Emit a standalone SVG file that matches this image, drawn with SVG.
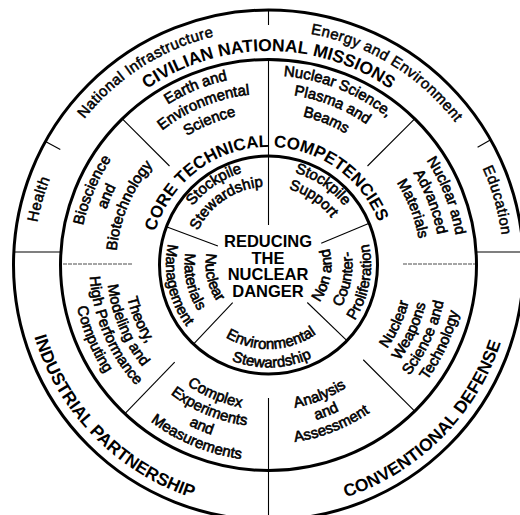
<svg xmlns="http://www.w3.org/2000/svg" width="520" height="515" viewBox="0 0 520 515">
<style>
.ring{fill:none;stroke:#000;stroke-width:3}
.sp{stroke:#000;stroke-width:1.1;fill:none}
.gr{stroke:#888;stroke-width:1.3;stroke-dasharray:4 1;fill:none}
text{font-family:"Liberation Sans",Arial,Helvetica,sans-serif;fill:#000}
.lb{font-size:15px;stroke:#000;stroke-width:0.6;text-anchor:middle}
.ob{font-size:15px;stroke:#000;stroke-width:0.5;letter-spacing:0.4px;text-anchor:middle}
.bg{font-size:17.5px;font-weight:bold;text-anchor:middle}
.ct{font-size:16.5px;font-weight:bold;text-anchor:middle}
</style>
<defs>
<path id="t235" d="M-231.43,-40.8 A235,235 0 0 1 231.43,-40.8"/>
<path id="t214" d="M-210.75,-37.15 A214,214 0 0 1 210.75,-37.15"/>
<path id="t118" d="M-116.21,-20.48 A118,118 0 0 1 116.21,-20.48"/>
<path id="t189" d="M-186.62,-32.9 A189.5,189.5 0 0 1 186.62,-32.9"/>
<path id="t171" d="M-168.89,-29.77 A171.5,171.5 0 0 1 168.89,-29.77"/>
<path id="t152" d="M-150.18,-26.47 A152.5,152.5 0 0 1 150.18,-26.47"/>
<path id="t96" d="M-94.54,-16.67 A96,96 0 0 1 94.54,-16.67"/>
<path id="t78" d="M-77.31,-13.63 A78.5,78.5 0 0 1 77.31,-13.63"/>
<path id="b245" d="M-241.28,42.53 A245,245 0 0 0 241.28,42.53"/>
<path id="b145" d="M-142.8,25.17 A145,145 0 0 0 142.8,25.17"/>
<path id="b162" d="M-159.54,28.12 A162,162 0 0 0 159.54,28.12"/>
<path id="b179" d="M-176.28,31.07 A179,179 0 0 0 176.28,31.07"/>
<path id="b196" d="M-193.02,34.03 A196,196 0 0 0 193.02,34.03"/>
<path id="b63" d="M-62.04,10.94 A63,63 0 0 0 62.04,10.94"/>
<path id="b84" d="M-82.72,14.58 A84,84 0 0 0 82.72,14.58"/>
<path id="b102" d="M-100.94,17.79 A102.5,102.5 0 0 0 100.94,17.79"/>
</defs>
<rect width="520" height="515" fill="#fff"/>
<g transform="translate(268.5,265)">
<g id="rings">
<circle class="ring" cx="0" cy="0" r="255"/>
<ellipse class="ring" cx="0" cy="0" rx="208" ry="205.5"/>
<circle class="ring" cx="0" cy="0" r="109"/>
</g>
<g id="connectors">
<line class="sp" x1="0" y1="-205" x2="0" y2="-40"/>
<line class="sp" x1="0" y1="-255" x2="0" y2="-240"/>
<line class="sp" x1="0" y1="133" x2="0" y2="256"/>
<line class="sp" x1="-208.2" y1="-115.4" x2="-223" y2="-123.6"/>
<line class="sp" x1="209.1" y1="-117.8" x2="222.2" y2="-125.2"/>
<line class="sp" x1="-254.7" y1="-13" x2="-207.6" y2="-13"/>
<line class="sp" x1="207.6" y1="-13" x2="254.7" y2="-13"/>
<line class="gr" x1="-205.5" y1="-1" x2="-135.5" y2="-1"/>
<line class="gr" x1="134.5" y1="-1" x2="206.5" y2="-1"/>
<line class="sp" x1="99" y1="-99" x2="146.4" y2="-146.4"/>
<line class="sp" x1="94.75" y1="94.75" x2="146.4" y2="146.4"/>
<line class="sp" x1="-93.8" y1="97.1" x2="-143.8" y2="148.9"/>
<line class="sp" x1="-99" y1="-99" x2="-146.4" y2="-146.4"/>
<line class="sp" x1="52.7" y1="-21.8" x2="100.7" y2="-41.7"/>
<line class="sp" x1="38.8" y1="37.5" x2="78.4" y2="75.7"/>
<line class="sp" x1="-35.8" y1="37.7" x2="-75" y2="79.1"/>
<line class="sp" x1="-50.6" y1="-18.9" x2="-102.1" y2="-38.2"/>
</g>
<g id="n-health"><text class="ob" transform="rotate(-74)"><textPath href="#t235" startOffset="50%">Health</textPath></text></g>
<g id="n-natinfra"><text class="ob" transform="rotate(-32.5)"><textPath href="#t235" startOffset="50%">National Infrastructure</textPath></text></g>
<g id="n-energy"><text class="ob" transform="rotate(31.5)"><textPath href="#t235" startOffset="50%">Energy and Environment</textPath></text></g>
<g id="n-education"><text class="ob" transform="rotate(74.2)"><textPath href="#t235" startOffset="50%">Education</textPath></text></g>
<g id="n-civilian"><text class="bg"><textPath href="#t214" startOffset="50%">CIVILIAN NATIONAL MISSIONS</textPath></text></g>
<g id="n-core"><text class="bg" style="font-size:17px" transform="rotate(-2.5)"><textPath href="#t118" startOffset="50%">CORE TECHNICAL COMPETENCIES</textPath></text></g>
<g id="n-industrial"><text class="bg" transform="rotate(45.5)"><textPath href="#b245" startOffset="50%">INDUSTRIAL PARTNERSHIP</textPath></text></g>
<g id="n-conventional"><text class="bg" transform="rotate(-45)"><textPath href="#b245" startOffset="50%">CONVENTIONAL DEFENSE</textPath></text></g>
<g id="n-earth" transform="rotate(-22.3)">
<text class="lb"><textPath href="#t189" startOffset="50%">Earth and</textPath></text>
<text class="lb"><textPath href="#t171" startOffset="50%">Environmental</textPath></text>
<text class="lb"><textPath href="#t152" startOffset="50%">Science</textPath></text>
</g>
<g id="n-nucsci" transform="rotate(21.7)">
<text class="lb"><textPath href="#t189" startOffset="50%">Nuclear Science,</textPath></text>
<text class="lb"><textPath href="#t171" startOffset="50%">Plasma and</textPath></text>
<text class="lb"><textPath href="#t152" startOffset="50%">Beams</textPath></text>
</g>
<g id="n-nam" transform="rotate(68.7)">
<text class="lb"><textPath href="#t189" startOffset="50%">Nuclear and</textPath></text>
<text class="lb"><textPath href="#t171" startOffset="50%">Advanced</textPath></text>
<text class="lb"><textPath href="#t152" startOffset="50%">Materials</textPath></text>
</g>
<g id="n-bio" transform="rotate(-67)">
<text class="lb"><textPath href="#t189" startOffset="50%">Bioscience</textPath></text>
<text class="lb"><textPath href="#t171" startOffset="50%">and</textPath></text>
<text class="lb"><textPath href="#t152" startOffset="50%">Biotechnology</textPath></text>
</g>
<g id="n-nwst" transform="rotate(-65)">
<text class="lb"><textPath href="#b145" startOffset="50%">Nuclear</textPath></text>
<text class="lb"><textPath href="#b162" startOffset="50%">Weapons</textPath></text>
<text class="lb"><textPath href="#b179" startOffset="50%">Science and</textPath></text>
<text class="lb"><textPath href="#b196" startOffset="50%">Technology</textPath></text>
</g>
<g id="n-aa" transform="rotate(-21.5)">
<text class="lb"><textPath href="#b145" startOffset="50%">Analysis</textPath></text>
<text class="lb"><textPath href="#b162" startOffset="50%">and</textPath></text>
<text class="lb"><textPath href="#b179" startOffset="50%">Assessment</textPath></text>
</g>
<g id="n-cem" transform="rotate(22.5)">
<text class="lb"><textPath href="#b145" startOffset="50%">Complex</textPath></text>
<text class="lb"><textPath href="#b162" startOffset="50%">Experiments</textPath></text>
<text class="lb"><textPath href="#b179" startOffset="50%">and</textPath></text>
<text class="lb"><textPath href="#b196" startOffset="50%">Measurements</textPath></text>
</g>
<g id="n-theory" transform="rotate(67)">
<text class="lb"><textPath href="#b145" startOffset="50%">Theory,</textPath></text>
<text class="lb"><textPath href="#b162" startOffset="50%">Modeling and</textPath></text>
<text class="lb"><textPath href="#b179" startOffset="50%">High Performance</textPath></text>
<text class="lb"><textPath href="#b196" startOffset="50%">Computing</textPath></text>
</g>
<g id="n-stewardship" transform="rotate(-34)">
<text class="lb"><textPath href="#t96" startOffset="50%">Stockpile</textPath></text>
<text class="lb"><textPath href="#t78" startOffset="50%">Stewardship</textPath></text>
</g>
<g id="n-support" transform="rotate(34)">
<text class="lb"><textPath href="#t96" startOffset="50%">Stockpile</textPath></text>
<text class="lb"><textPath href="#t78" startOffset="50%">Support</textPath></text>
</g>
<g id="n-ncp" transform="rotate(-79.5)">
<text class="lb"><textPath href="#b63" startOffset="50%">Non and</textPath></text>
<text class="lb"><textPath href="#b84" startOffset="50%">Counter-</textPath></text>
<text class="lb"><textPath href="#b102" startOffset="50%">Proliferation</textPath></text>
</g>
<g id="n-envstew" transform="rotate(-2)">
<text class="lb"><textPath href="#b84" startOffset="50%">Environmental</textPath></text>
<text class="lb"><textPath href="#b102" startOffset="50%">Stewardship</textPath></text>
</g>
<g id="n-nmm" transform="rotate(77.5)">
<text class="lb"><textPath href="#b63" startOffset="50%">Nuclear</textPath></text>
<text class="lb"><textPath href="#b84" startOffset="50%">Materials</textPath></text>
<text class="lb"><textPath href="#b102" startOffset="50%">Management</textPath></text>
</g>
<g id="n-center">
<text class="ct" x="-0.5" y="-18">REDUCING</text>
<text class="ct" x="-0.5" y="-1.5">THE</text>
<text class="ct" x="-0.5" y="15">NUCLEAR</text>
<text class="ct" x="-0.5" y="31.5">DANGER</text>
</g>
</g>
</svg>
